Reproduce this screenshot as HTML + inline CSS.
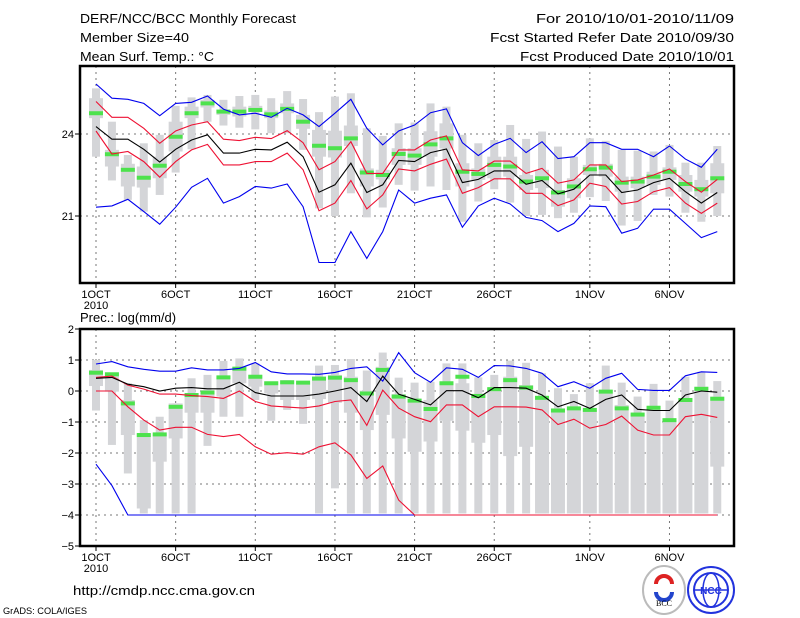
<!DOCTYPE html>
<html><head><meta charset="utf-8"><style>
body{margin:0;background:#fff;}
svg{display:block;font-family:"Liberation Sans",sans-serif;}
</style></head><body>
<svg id="c" width="800" height="618" viewBox="0 0 800 618">
<g font-size="13" fill="#000">
<text x="80" y="23" textLength="216" lengthAdjust="spacingAndGlyphs">DERF/NCC/BCC Monthly Forecast</text>
<text x="80" y="42" textLength="109" lengthAdjust="spacingAndGlyphs">Member Size=40</text>
<text x="80" y="61" textLength="134" lengthAdjust="spacingAndGlyphs">Mean Surf. Temp.: °C</text>
<text x="536" y="23" textLength="198" lengthAdjust="spacingAndGlyphs">For 2010/10/01-2010/11/09</text>
<text x="490" y="42" textLength="244" lengthAdjust="spacingAndGlyphs">Fcst Started Refer Date 2010/09/30</text>
<text x="520" y="61" textLength="214" lengthAdjust="spacingAndGlyphs">Fcst Produced Date 2010/10/01</text>
<text x="80" y="322">Prec.: log(mm/d)</text>
<text x="73" y="595" font-size="13" textLength="182" lengthAdjust="spacingAndGlyphs">http://cmdp.ncc.cma.gov.cn</text>
<text x="3" y="614" font-size="9" textLength="84" lengthAdjust="spacingAndGlyphs">GrADS: COLA/IGES</text>
</g>
<g>
<ellipse cx="664" cy="590" rx="21" ry="24" fill="#fff" stroke="#bbb" stroke-width="2"/>
<path d="M656 584 a8 8 0 1 1 16 0" fill="none" stroke="#d22" stroke-width="4"/>
<path d="M656 592 a8 8 0 0 0 16 0" fill="none" stroke="#2244cc" stroke-width="4"/>
<text x="664" y="606" font-size="8" text-anchor="middle" font-family="Liberation Serif,serif">BCC</text>
</g>
<g>
<circle cx="711" cy="590" r="23" fill="#fff" stroke="#2233dd" stroke-width="2"/>
<circle cx="711" cy="590" r="17" fill="none" stroke="#2233dd" stroke-width="2"/>
<ellipse cx="711" cy="590" rx="8" ry="17" fill="none" stroke="#2233dd" stroke-width="1.5"/>
<line x1="694" y1="590" x2="728" y2="590" stroke="#2233dd" stroke-width="1.5"/>
<text x="711" y="594" font-size="10" font-weight="bold" text-anchor="middle" fill="#2233dd">NCC</text>
</g>
</svg>
<script>
// ---- temperature data (day 0 = 1 Oct) ----
const days = ["1OCT","6OCT","11OCT","16OCT","21OCT","26OCT","1NOV","6NOV"];
const tMean = [24.27,23.81,23.81,23.44,22.97,23.44,23.78,23.97,23.30,23.30,23.44,23.42,23.70,23.17,21.87,22.14,22.93,21.86,22.14,23.03,22.99,23.32,23.45,22.22,22.34,22.65,22.65,22.16,22.30,21.81,21.98,22.50,22.50,21.86,21.95,22.22,22.38,21.89,21.47,21.86];
const tRedHi = [25.19,24.61,24.61,24.21,23.66,24.11,24.33,24.45,23.81,23.76,23.88,23.83,24.12,23.68,22.69,22.99,23.72,22.56,22.56,23.42,23.42,23.78,23.93,22.69,22.65,23.01,23.01,22.56,22.74,22.20,22.32,22.87,22.87,22.26,22.32,22.50,22.72,22.26,21.87,22.34];
const tRedLo = [24.11,23.27,23.36,22.99,22.42,22.99,23.42,23.62,22.87,22.87,22.99,22.99,23.30,22.69,21.19,21.47,22.30,21.26,21.77,22.72,22.65,22.89,23.08,21.83,22.04,22.36,22.36,21.83,21.83,21.38,21.59,22.20,22.08,21.44,21.53,21.89,22.04,21.47,21.10,21.47];
const tBlueHi = [25.83,25.31,25.27,25.12,24.67,25.12,25.16,25.39,24.91,24.70,24.76,24.61,24.94,24.70,24.27,24.76,25.27,24.21,23.60,24.11,24.33,24.78,24.92,23.68,23.21,23.62,23.84,23.32,23.72,23.10,23.17,23.68,23.68,23.44,23.44,23.17,23.56,23.08,22.78,23.44];
const tBlueLo = [21.32,21.37,21.61,21.16,20.70,21.32,22.05,22.38,21.47,21.71,22.08,22.02,22.17,21.34,19.30,19.30,20.43,19.45,20.43,21.95,21.47,21.65,21.77,20.59,21.37,21.65,21.44,20.95,20.83,20.43,20.73,21.37,21.34,20.37,20.55,21.25,21.25,20.73,20.21,20.43];
const tGreen = [24.76,23.26,22.69,22.40,22.84,23.90,24.76,25.12,24.82,24.82,24.88,24.72,24.92,24.45,23.57,23.48,23.84,22.59,22.50,23.27,23.21,23.62,23.84,22.62,22.54,22.87,22.81,22.26,22.38,21.86,22.08,22.71,22.77,22.22,22.26,22.44,22.62,22.17,21.98,22.38];
const tWhiskHi = [25.67,24.45,23.23,23.66,23.97,25.03,25.34,25.43,25.25,25.39,25.43,25.31,25.57,25.28,24.80,25.37,25.49,24.21,23.93,24.39,24.42,25.12,25.00,23.97,23.66,23.78,24.33,23.82,24.09,23.54,23.17,23.84,23.75,23.42,23.39,23.36,23.60,22.95,22.95,23.56];
const tWhiskLo = [23.17,22.30,21.59,21.16,21.77,22.59,23.44,24.45,24.31,24.23,24.17,24.03,24.03,23.42,21.28,21.00,21.83,20.95,21.31,22.14,21.93,22.08,21.95,20.79,21.53,21.98,21.49,21.00,21.04,20.92,21.12,21.69,21.55,20.65,20.82,21.77,21.71,21.12,20.79,21.00];
const tBoxHi = [25.31,23.42,22.91,22.81,23.17,24.45,25.00,25.25,24.88,25.00,25.03,24.86,25.12,24.70,24.15,24.12,24.31,22.74,22.69,23.48,23.48,24.10,24.39,22.93,22.74,23.17,23.17,22.50,22.69,21.95,22.38,22.87,22.91,22.44,22.44,22.62,22.78,22.50,22.32,22.93];
const tBoxLo = [24.58,22.81,22.08,22.04,22.38,23.36,24.58,24.97,24.70,24.64,24.88,24.58,24.76,24.19,23.17,23.14,23.56,22.08,22.34,22.87,22.87,23.17,23.47,22.08,22.32,22.38,22.44,21.95,22.02,21.34,21.65,22.50,22.44,21.89,22.02,22.14,22.32,21.89,21.71,21.83];
const tTicks = [24,21];
// ---- precipitation data ----
const pMean = [0.41,0.44,0.22,0.14,0.00,0.09,0.11,0.07,0.07,0.28,-0.05,-0.16,-0.16,-0.16,-0.10,0.00,0.11,-0.34,0.48,-0.10,-0.27,-0.45,0.01,0.01,-0.22,0.11,0.11,0.09,-0.13,-0.51,-0.34,-0.56,-0.27,-0.13,-0.59,-0.63,-0.63,-0.13,0.00,-0.04];
const pRedHi = [0.44,0.48,0.19,0.06,-0.10,-0.10,-0.15,-0.18,-0.24,0.00,-0.34,-0.48,-0.52,-0.55,-0.48,-0.34,-0.29,-1.11,0.03,-0.55,-0.83,-0.99,-0.45,-0.45,-0.83,-0.51,-0.51,-0.52,-0.61,-1.08,-0.91,-1.20,-1.08,-0.81,-1.26,-1.42,-1.42,-0.83,-0.75,-0.85];
const pRedLo = [0.00,0.00,-0.51,-0.94,-1.26,-1.17,-1.17,-1.40,-1.47,-1.40,-1.80,-2.04,-1.99,-2.04,-1.80,-1.67,-2.06,-2.82,-2.42,-3.52,-4,-4,-4,-4,-4,-4,-4,-4,-4,-4,-4,-4,-4,-4,-4,-4,-4,-4,-4,-4];
const pBlueHi = [0.87,0.95,0.78,0.70,0.64,0.64,0.75,0.68,0.68,0.73,0.92,0.62,0.55,0.55,0.54,0.60,0.73,0.78,0.32,1.24,0.59,0.28,0.75,0.70,0.44,0.82,0.81,0.73,0.57,0.14,0.30,0.09,0.41,0.57,0.05,0.02,0.02,0.49,0.62,0.60];
const pBlueLo = [-2.36,-3.05,-4,-4,-4,-4,-4,-4,-4,-4,-4,-4,-4,-4,-4,-4,-4,-4,-4,-4,-4,-4,-4,-4,-4,-4,-4,-4,-4,-4,-4,-4,-4,-4,-4,-4,-4,-4,-4,-4];
const pGreen = [0.59,0.54,-0.40,-1.42,-1.40,-0.51,-0.13,-0.05,0.44,0.72,0.46,0.25,0.28,0.27,0.40,0.43,0.35,-0.08,0.68,-0.18,-0.31,-0.58,0.25,0.46,-0.16,0.06,0.35,0.11,-0.22,-0.63,-0.56,-0.61,-0.02,-0.56,-0.76,-0.54,-0.94,-0.29,0.07,-0.25];
const pWhiskHi = [1.0,0.57,0.25,-0.94,-0.83,-0.40,0.41,0.52,0.97,1.05,0.89,0.30,0.35,0.30,0.82,0.84,1.03,0.66,1.24,0.43,0.27,0.30,0.89,0.89,0.44,0.52,0.98,0.91,0.57,0.09,-0.10,0.25,0.82,0.27,-0.18,0.23,-0.31,0.46,0.62,0.32];
const pWhiskLo = [-0.63,-1.74,-2.66,-3.95,-3.95,-3.95,-3.95,-1.77,-0.83,-0.83,-0.29,-0.96,-0.61,-1.06,-3.95,-3.14,-3.95,-3.95,-3.95,-3.95,-3.95,-3.95,-3.95,-3.95,-3.95,-3.95,-3.95,-3.95,-3.95,-3.95,-3.95,-3.95,-3.95,-3.95,-3.95,-3.95,-3.95,-3.95,-3.95,-3.95];
const pBoxHi = [0.68,0.57,-0.29,-1.37,-1.37,-0.40,-0.08,0.03,0.48,0.78,0.52,0.30,0.35,0.30,0.46,0.52,0.46,0.01,0.78,-0.10,-0.27,-0.29,0.30,0.25,-0.13,0.11,0.46,0.19,-0.18,-0.56,-0.56,-0.61,0.03,-0.45,-0.72,-0.56,-0.94,-0.24,0.14,-0.18];
const pBoxLo = [0.16,-0.02,-1.42,-3.79,-2.28,-1.53,-0.70,-0.70,-0.18,0.25,0.14,-0.08,-0.29,-0.29,-0.26,-0.38,-0.70,-1.26,-0.77,-1.53,-1.96,-1.63,-0.96,-1.28,-1.67,-1.42,-2.10,-1.80,-3.95,-3.95,-3.95,-3.95,-3.95,-3.95,-3.95,-3.95,-3.95,-3.95,-3.95,-2.44];
const pTicks = [2,1,0,-1,-2,-3,-4,-5];

const NS="http://www.w3.org/2000/svg";
const svg=document.getElementById('c');
const X0=80,X1=734;
const xd=d=>96+d*15.93;
function mk(tag,attrs,parent){const e=document.createElementNS(NS,tag);for(const k in attrs)e.setAttribute(k,attrs[k]);(parent||svg).appendChild(e);return e;}

function panel(cfg){
  const g=mk('g',{});
  
  
  const y=cfg.y;
  for(let i=0;i<days.length;i++){
    const d=i<6?i*5:(i===6?31:36);
    const gl=mk('line',{x1:xd(d),x2:xd(d),y1:cfg.top,y2:cfg.bot,stroke:'#777','stroke-dasharray':'2,4','stroke-width':1},g);
    
    
    mk('line',{x1:xd(d),x2:xd(d),y1:cfg.bot,y2:cfg.bot+5,stroke:'#000'},g);
    const t=mk('text',{x:xd(d),y:cfg.bot+15,'font-size':11,'text-anchor':'middle'},g);
    t.textContent=days[i];
    
    
  }
  const yr=mk('text',{x:xd(0),y:cfg.bot+26,'font-size':11,'text-anchor':'middle'},g);
  yr.textContent='2010';
  
  
  cfg.ticks.forEach(v=>{
    if(y(v)>cfg.top+1&&y(v)<cfg.bot-1){
      const gl=mk('line',{x1:X0,x2:X1,y1:y(v),y2:y(v),stroke:'#777','stroke-dasharray':'2,4'},g);
      
      
    }
    mk('line',{x1:X0-5,x2:X0,y1:y(v),y2:y(v),stroke:'#000'},g);
    const t=mk('text',{x:X0-6,y:y(v)+4,'font-size':11,'text-anchor':'end'},g);
    t.textContent=v<0?'\u2212'+(-v):v;
    
    
  });
  const D=cfg.data;
  for(let d=0;d<D.wh.length;d++){
    const w=mk('rect',{x:xd(d)-4,y:y(D.wh[d]),width:8,height:Math.max(0,y(D.wl[d])-y(D.wh[d])),fill:'#d4d5d8'},g);
    
    
    const b=mk('rect',{x:xd(d)-7,y:y(D.bh[d]),width:14,height:Math.max(0,y(D.bl[d])-y(D.bh[d])),fill:'#d4d5d8'},g);
    
    
  }
  for(let d=0;d<D.g.length;d++){
    const m=mk('rect',{x:xd(d)-7,y:y(D.g[d])-2,width:14,height:4,fill:'#4de24d'},g);
    
    
  }
  const line=(arr,col,name)=>{
    const p=mk('polyline',{points:arr.map((v,d)=>xd(d)+','+y(v).toFixed(1)).join(' '),fill:'none',stroke:col,'stroke-width':1.1},g);
    
    
  };
  line(D.blo,'#0000ee','lower-blue-line');
  line(D.rlo,'#ee1133','lower-red-line');
  line(D.bhi,'#0000ee','upper-blue-line');
  line(D.rhi,'#ee1133','upper-red-line');
  line(D.m,'#000','ensemble-mean-line');
  const f=mk('rect',{x:X0,y:cfg.top,width:X1-X0,height:cfg.bot-cfg.top,fill:'none',stroke:'#000','stroke-width':2.5},g);
  
  
}
panel({name:'temperature-panel',top:66,bot:283,y:v=>134-(v-24)*27.33,ticks:tTicks,
  data:{m:tMean,rhi:tRedHi,rlo:tRedLo,bhi:tBlueHi,blo:tBlueLo,g:tGreen,wh:tWhiskHi,wl:tWhiskLo,bh:tBoxHi,bl:tBoxLo}});
panel({name:'precipitation-panel',top:329,bot:546,y:v=>391-v*31,ticks:pTicks,
  data:{m:pMean,rhi:pRedHi,rlo:pRedLo,bhi:pBlueHi,blo:pBlueLo,g:pGreen,wh:pWhiskHi,wl:pWhiskLo,bh:pBoxHi,bl:pBoxLo}});
</script>
</body></html>
